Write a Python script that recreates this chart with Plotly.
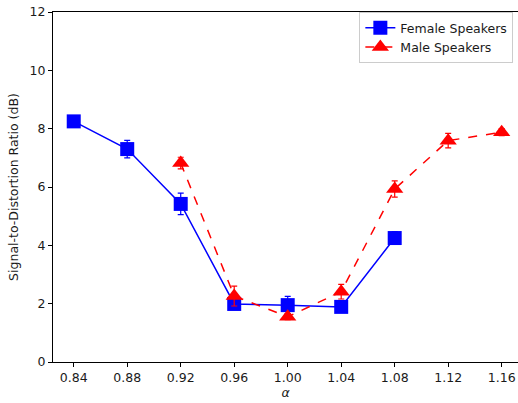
import plotly.graph_objects as go

alpha_female = [0.84, 0.88, 0.92, 0.96, 1.00, 1.04, 1.08]
sdr_female = [8.25, 7.30, 5.42, 1.99, 1.95, 1.89, 4.25]
err_female = [0.08, 0.30, 0.37, 0.12, 0.30, 0.12, 0.22]

alpha_male = [0.92, 0.96, 1.00, 1.04, 1.08, 1.12, 1.16]
sdr_male = [6.82, 2.26, 1.55, 2.41, 5.93, 7.59, 7.88]
err_male = [0.20, 0.34, 0.10, 0.25, 0.28, 0.25, 0.12]

x_ticks = [0.84, 0.88, 0.92, 0.96, 1.00, 1.04, 1.08, 1.12, 1.16]
x_ticklabels = ["0.84", "0.88", "0.92", "0.96", "1.00", "1.04", "1.08", "1.12", "1.16"]
y_ticks = [0, 2, 4, 6, 8, 10, 12]

font = dict(family="DejaVu Sans", size=12.5, color="#1a1a1a")

fig = go.Figure()
fig.add_trace(go.Scatter(
    x=alpha_female, y=sdr_female, name="Female Speakers", mode="lines+markers",
    line=dict(color="#0000ff", width=1.5),
    marker=dict(symbol="square", size=14, color="#0000ff"),
    error_y=dict(type="data", array=err_female, color="#0000ff", thickness=1.2, width=3),
))
fig.add_trace(go.Scatter(
    x=alpha_male, y=sdr_male, name="Male Speakers", mode="lines+markers",
    line=dict(color="#ff0000", width=1.5, dash="dash"),
    marker=dict(symbol="triangle-up", size=15, color="#ff0000"),
    error_y=dict(type="data", array=err_male, color="#ff0000", thickness=1.2, width=3),
))

fig.update_layout(
    width=518, height=403,
    margin=dict(l=53, r=0, t=12, b=41),
    paper_bgcolor="white", plot_bgcolor="white",
    font=font,
    showlegend=True,
    legend=dict(
        x=0.99, y=1.0, xanchor="right", yanchor="top",
        bgcolor="white", bordercolor="#cccccc", borderwidth=1,
        font=dict(family="DejaVu Sans", size=12.5, color="#1a1a1a"),
        itemwidth=30, tracegroupgap=0,
    ),
    xaxis=dict(
        range=[0.8245, 1.1722], tickvals=x_ticks, ticktext=x_ticklabels,
        showgrid=False, zeroline=False, showline=True, linecolor="black", linewidth=1,
        mirror=True, ticks="outside", ticklen=4, tickcolor="black",
        ticklabeloverflow="allow",
        title=dict(text="<i>α</i>", font=font, standoff=4),
    ),
    yaxis=dict(
        range=[0, 12], tickvals=y_ticks,
        showgrid=False, zeroline=False, showline=True, linecolor="black", linewidth=1,
        ticks="outside", ticklen=4, tickcolor="black",
        ticklabeloverflow="allow",
        title=dict(text="Signal-to-Distortion Ratio (dB)", font=font, standoff=8),
    ),
)

fig.write_html(
    "out.html",
    config={"displayModeBar": False},
    post_script="document.body.style.margin='0';document.body.style.overflow='hidden';",
)
